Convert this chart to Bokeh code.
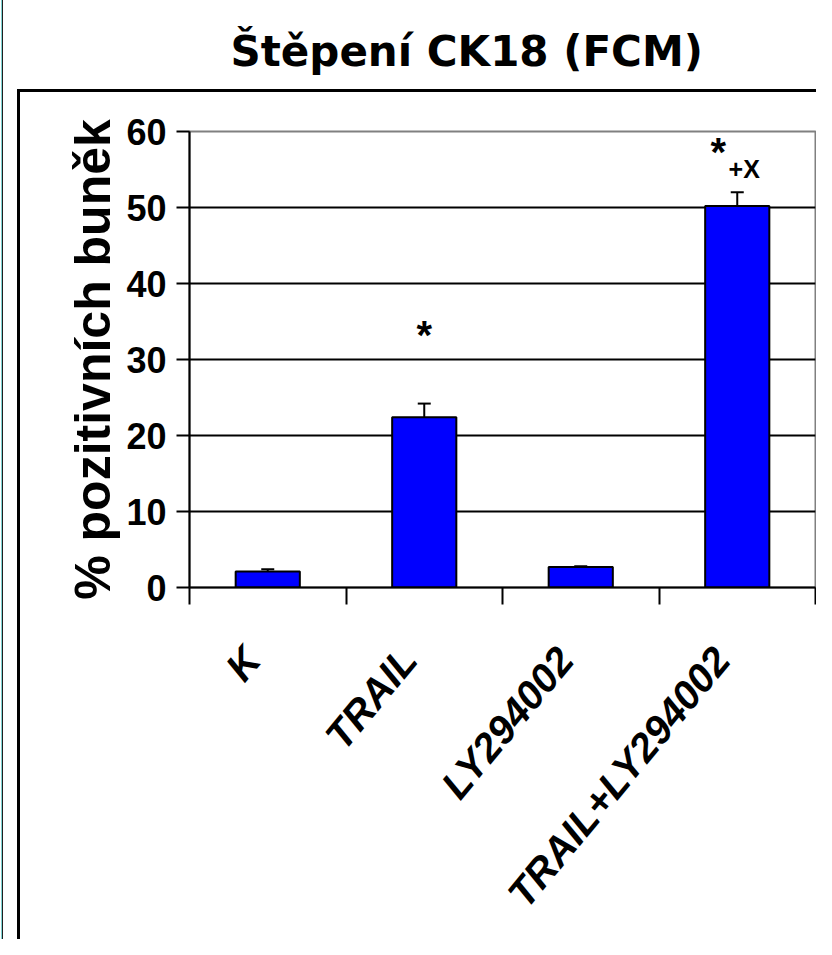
from bokeh.plotting import figure
from bokeh.models import (Range1d, LinearAxis, FixedTicker, Whisker, TeeHead,
                          ColumnDataSource, Grid)
from bokeh.core.properties import value
from bokeh.embed import file_html
from bokeh.resources import INLINE

# ---- data ----
categories = ["K", "TRAIL", "LY294002", "TRAIL+LY294002"]
means = [2.1, 22.4, 2.7, 50.2]
errors = [0.3, 1.8, 0.1, 1.8]
y_ticks = [0, 10, 20, 30, 40, 50, 60]
grid_ticks = [10, 20, 30, 40, 50]
title_text = "Štěpení CK18 (FCM)"
y_title = "% pozitivních buněk"
sig_text = ["*", "*", "+X"]
sig_cat = ["TRAIL", "TRAIL+LY294002", "TRAIL+LY294002"]
sig_y = [33.2, 57.3, 55.1]

n = len(categories)
xpos = [i + 0.5 for i in range(n)]
upper = [m + e for m, e in zip(means, errors)]
src = ColumnDataSource(dict(x=xpos, cats=categories, means=means, upper=upper))

p = figure(width=816, height=939, x_range=Range1d(0, n), y_range=Range1d(0, 60),
           x_axis_location=None, y_axis_location=None, output_backend="svg",
           toolbar_location=None, min_border_left=189, min_border_right=1,
           min_border_top=131, min_border_bottom=352)
p.center = [r for r in p.center if not isinstance(r, Grid)]
p.background_fill_color = "white"
p.border_fill_color = None
p.outline_line_color = "#808080"
p.outline_line_width = 2

# slide frame lines (page decoration) drawn as CSS background behind the transparent border
p.styles = {
    "background-color": "white",
    "background-image": ("linear-gradient(black, black), linear-gradient(black, black), "
                         "linear-gradient(#7fd4d4, #7fd4d4), linear-gradient(#202020, #202020)"),
    "background-size": "3px 2000px, 2000px 3px, 1px 2000px, 1px 2000px",
    "background-position": "17px 89px, 17px 89px, 1px 0px, 2px 0px",
    "background-repeat": "no-repeat",
}

p.title.text = title_text
p.title.align = "left"
p.title.offset = 41
p.title.standoff = 80
p.title.text_font = "DejaVu Sans"
p.title.text_font_style = "bold"
p.title.text_font_size = "42px"
p.title.text_color = "black"
try:
    p.title.padding = dict(left=0, right=0, top=0, bottom=46)
    p.title.standoff = 20
except Exception:
    pass

p.add_layout(Grid(dimension=1, ticker=FixedTicker(ticks=grid_ticks),
                  grid_line_color="black", grid_line_width=2))

# y axis
yax = LinearAxis(ticker=FixedTicker(ticks=y_ticks))
yax.axis_line_color = "black"
yax.axis_line_width = 2
yax.major_tick_line_width = 2
yax.major_tick_out = 13
yax.major_tick_in = 0
yax.minor_tick_line_color = None
yax.major_label_text_font = "Liberation Sans"
yax.major_label_text_font_style = "bold"
yax.major_label_text_font_size = "36px"
yax.major_label_text_color = "black"
yax.major_label_standoff = 10
yax.axis_label = y_title
yax.axis_label_text_font = "Liberation Sans"
yax.axis_label_text_font_style = "bold"
yax.axis_label_text_font_size = "50px"
yax.axis_label_text_color = "black"
yax.axis_label_standoff = 2
p.add_layout(yax, "left")

# category boundary ticks
bax = LinearAxis(ticker=FixedTicker(ticks=list(range(n + 1))))
bax.axis_line_color = "black"
bax.axis_line_width = 2
bax.major_tick_line_width = 2
bax.major_tick_out = 17
bax.major_tick_in = 0
bax.minor_tick_line_color = None
bax.major_label_text_font_size = "1px"
bax.major_label_text_alpha = 0
bax.major_label_standoff = 0
p.add_layout(bax, "below")

# category labels (slightly shifted label anchors)
p.extra_x_ranges = {"labels": Range1d(0.1, n + 0.1)}
cax = LinearAxis(x_range_name="labels", ticker=FixedTicker(ticks=xpos),
                 major_label_overrides={x: c for x, c in zip(xpos, categories)})
cax.axis_line_color = None
cax.major_tick_line_color = None
cax.minor_tick_line_color = None
cax.major_tick_out = 0
cax.major_tick_in = 0
cax.major_label_orientation = 0.88
cax.major_label_standoff = 48
cax.major_label_text_font = "Liberation Sans"
cax.major_label_text_font_style = "bold italic"
cax.major_label_text_font_size = "40px"
cax.major_label_text_color = "black"
p.add_layout(cax, "below")

p.vbar(x="x", top="means", width=0.41, source=src, fill_color="#0000FF",
       line_color="black", line_width=2)

p.add_layout(Whisker(source=src, base="x", lower="means", upper="upper",
                     line_color="black", line_width=2, lower_head=None,
                     upper_head=TeeHead(size=13, line_color="black", line_width=2)))

# significance marks
def cx(c):
    return xpos[categories.index(c)]

p.text(x=[cx(sig_cat[0])], y=[sig_y[0]], text=[sig_text[0]], text_align="center",
       text_baseline="alphabetic", text_font=value("Liberation Sans"), text_font_style="bold",
       text_font_size="40px", text_color="black")
p.text(x=[cx(sig_cat[1])], y=[sig_y[1]], text=[sig_text[1]], text_align="center", x_offset=-19,
       text_baseline="alphabetic", text_font=value("Liberation Sans"), text_font_style="bold",
       text_font_size="40px", text_color="black")
p.text(x=[cx(sig_cat[2])], y=[sig_y[2]], text=[sig_text[2]], text_align="center", x_offset=7,
       text_baseline="alphabetic", text_font=value("Liberation Sans"), text_font_style="bold",
       text_font_size="25px", text_color="black")

open("out.html", "w").write(file_html(p, INLINE))
